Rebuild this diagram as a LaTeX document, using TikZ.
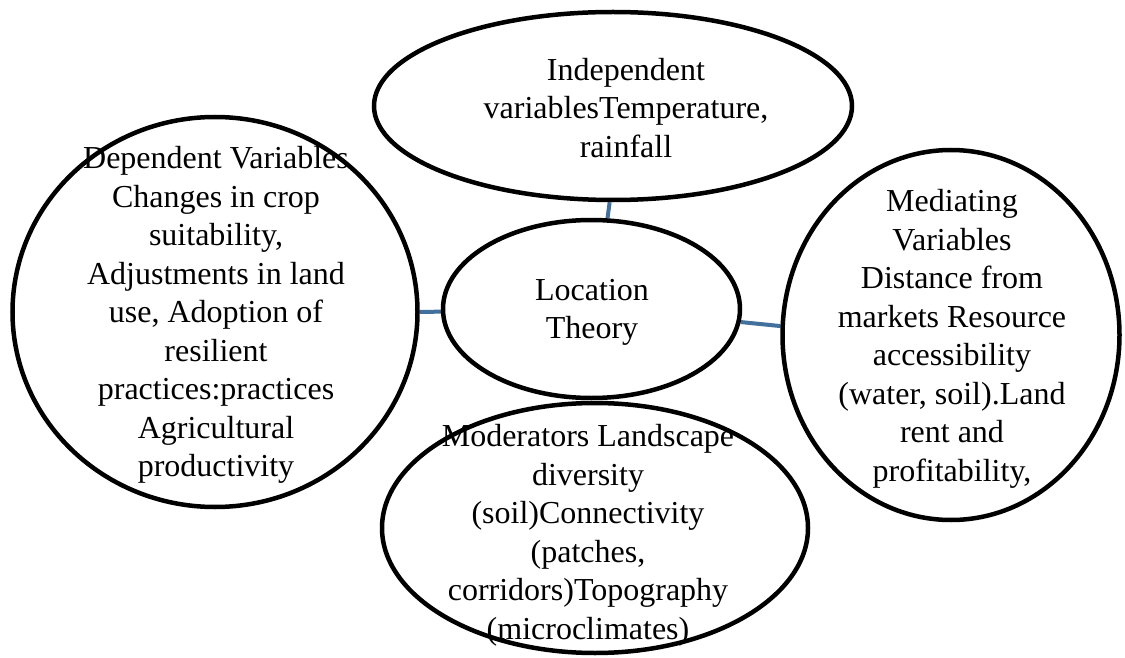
\documentclass[tikz,border=0pt]{standalone}
\usepackage{fontspec}
\setmainfont{Liberation Serif}
\usetikzlibrary{shapes.geometric,backgrounds}
\definecolor{linkblue}{RGB}{65,113,156}
\begin{document}
\begin{tikzpicture}[x=1pt,y=-1pt,
  bubble/.style={draw=black, line width=4.5pt, ellipse, inner sep=0pt, fill=white},
  caption/.style={align=center, font=\fontsize{32}{38.5}\selectfont, inner sep=0pt},
  link/.style={draw=linkblue, line width=4pt}]
\useasboundingbox (0,0) rectangle (1125,658);

% outlines of the five concepts
\node[bubble, minimum width=478pt, minimum height=188pt] (top) at (613,106) {};
\node[bubble, minimum width=297pt, minimum height=178pt] (ctr) at (591.5,309) {};
\node[bubble, minimum width=405pt, minimum height=390pt] (left) at (215,312) {};
\node[bubble, minimum width=337pt, minimum height=370pt] (right) at (951,335) {};
\node[bubble, minimum width=426pt, minimum height=250pt] (bottom) at (595,528) {};

% texts
\node[caption] (toptext) at (626,108) {Independent\\variablesTemperature,\\rainfall};
\node[caption] (ctrtext) at (592,312.5) {Location\\Theory};
\node[caption] (lefttext) at (216,315) {Dependent Variables\\Changes in crop\\suitability,\\Adjustments in land\\use, Adoption of\\resilient\\practices:practices\\Agricultural\\productivity};
\node[caption] (righttext) at (952,339) {Mediating\\Variables\\Distance from\\markets Resource\\accessibility\\(water, soil).Land\\rent and\\profitability,};
\node[caption] (bottomtext) at (588,535.5) {Moderators Landscape\\diversity\\(soil)Connectivity\\(patches,\\corridors)Topography\\(microclimates)};

% connectors behind the outlines
\begin{pgfonlayer}{background}
\draw[link] (top.268) -- (ctr.80);
\draw[link] (left.0) -- (ctr.181);
\draw[link] (ctr.-5) -- (right.177);
\end{pgfonlayer}
\end{tikzpicture}
\end{document}
